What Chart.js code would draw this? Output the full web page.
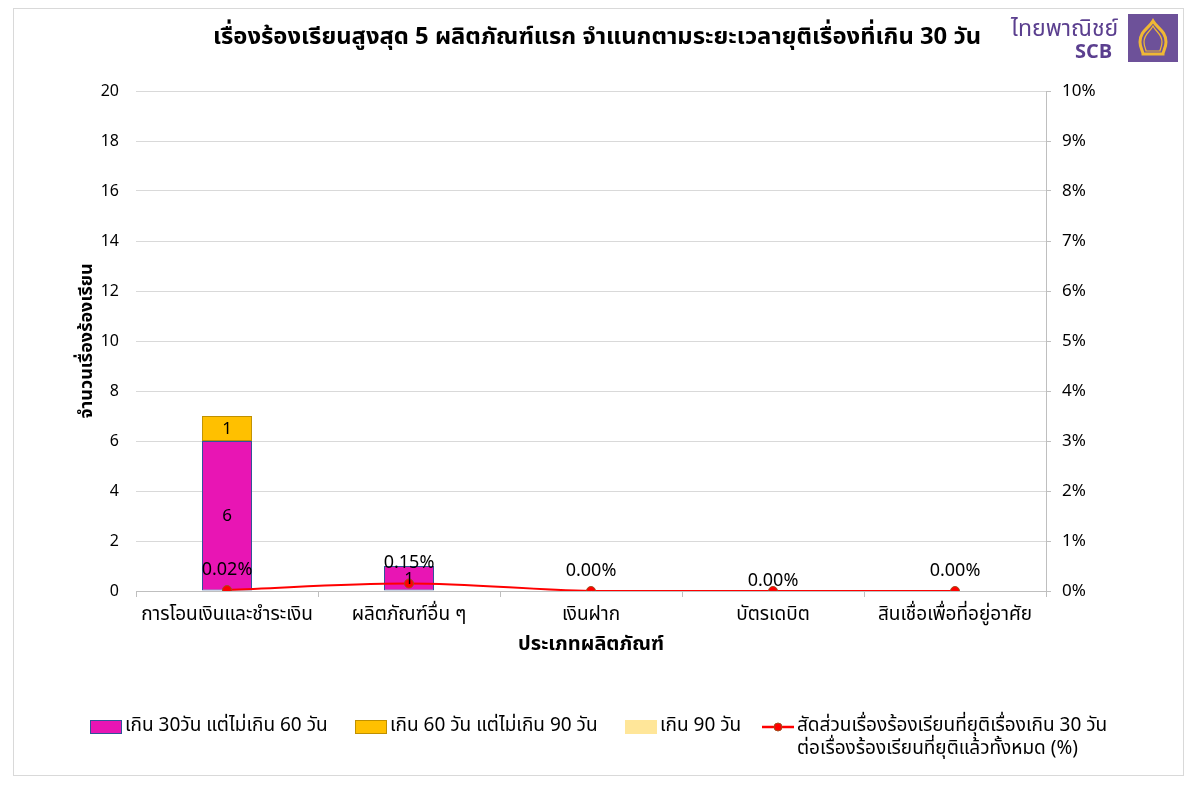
<!DOCTYPE html>
<html><head><meta charset="utf-8">
<script src="https://cdn.jsdelivr.net/npm/chart.js@4.4.1/dist/chart.umd.min.js"></script>
<style>
body{margin:0;background:#fff;}
#wrap{position:relative;width:1200px;height:806px;font-family:Tahoma,"Noto Sans Thai","DejaVu Sans","Noto Sans",sans-serif;color:#000;}
#frame{position:absolute;left:13px;top:8px;width:1171px;height:768px;border:1px solid #d9d9d9;box-sizing:border-box;}
canvas{position:absolute;left:0;top:0;}
#title{position:absolute;top:21px;left:0;width:1194px;text-align:center;font-weight:bold;font-size:23.8px;line-height:32px;}
#logoTh{position:absolute;left:1011px;top:13px;font-size:23px;color:#5b3f8f;line-height:32px;}
#logoEn{position:absolute;left:1075px;top:41px;font-size:20px;font-weight:bold;color:#5b3f8f;line-height:22px;}
#emblem{position:absolute;left:1128px;top:14px;}
#legend{position:absolute;left:90px;top:714px;font-size:19px;line-height:23px;white-space:nowrap;}
.li{position:absolute;top:0;}
.box{position:absolute;top:6px;width:32px;height:14px;box-sizing:border-box;}
.txt{position:absolute;left:35px;top:0;}
</style></head>
<body>
<div id="wrap">
  <div id="frame"></div>
  <canvas id="c" width="1200" height="806"></canvas>
  <div id="title">เรื่องร้องเรียนสูงสุด 5 ผลิตภัณฑ์แรก จำแนกตามระยะเวลายุติเรื่องที่เกิน 30 วัน</div>
  <div id="logoTh">ไทยพาณิชย์</div>
  <div id="logoEn">SCB</div>
  <svg id="emblem" width="50" height="48" viewBox="0 0 50 48">
    <rect x="0" y="0" width="50" height="48" fill="#6d5199"/>
    <path d="M25 7 C21 14 12 17 12 28 C12 34 15 37 15 40 L35 40 C35 37 38 34 38 28 C38 17 29 14 25 7 Z" fill="none" stroke="#f0b834" stroke-width="3"/>
    <path d="M25 12 C22 18 16 20 16 28 C16 33 18 35 18 37 L32 37 C32 35 34 33 34 28 C34 20 28 18 25 12 Z" fill="none" stroke="#f0b834" stroke-width="1.2"/>
  </svg>
  <div id="legend"></div>
</div>
<script>
const categories = ['การโอนเงินและชำระเงิน','ผลิตภัณฑ์อื่น ๆ','เงินฝาก','บัตรเดบิต','สินเชื่อเพื่อที่อยู่อาศัย'];
const over30to60 = [6, 1, 0, 0, 0];
const over60to90 = [1, 0, 0, 0, 0];
const over90 = [0, 0, 0, 0, 0];
const ratioPct = [0.02, 0.15, 0.00, 0.00, 0.00];
const leftTicks = [0, 20, 2];
const rightTicks = [0, 10, 1];
const seriesNames = ['เกิน 30วัน แต่ไม่เกิน 60 วัน','เกิน 60 วัน แต่ไม่เกิน 90 วัน','เกิน 90 วัน',['สัดส่วนเรื่องร้องเรียนที่ยุติเรื่องเกิน 30 วัน','ต่อเรื่องร้องเรียนที่ยุติแล้วทั้งหมด (%)']];

const FONT = 'Tahoma,"Noto Sans Thai","DejaVu Sans","Noto Sans",sans-serif';
const lineLabelOffsets = [20, 20, 20, 10, 20];

const labelPlugin = {
  id: 'vlabels',
  afterDatasetsDraw(chart) {
    const ctx = chart.ctx;
    ctx.save();
    ctx.fillStyle = '#000';
    ctx.textAlign = 'center';
    ctx.textBaseline = 'middle';
    chart.data.datasets.forEach((ds, i) => {
      const meta = chart.getDatasetMeta(i);
      meta.data.forEach((el, j) => {
        const v = ds.data[j];
        if (ds.type === 'line') {
          ctx.font = '18px ' + FONT;
          ctx.fillText(v.toFixed(2) + '%', el.x, el.y - lineLabelOffsets[j] + 1);
        } else if (v > 0) {
          ctx.font = '17px ' + FONT;
          ctx.fillText(String(v), el.x, (el.y + el.base) / 2 + 2);
        }
      });
    });
    ctx.restore();
  }
};

const bw = c => (c.raw ? 1 : 0);

new Chart(document.getElementById('c'), {
  type: 'bar',
  data: {
    labels: categories,
    datasets: [
      { type: 'line', label: seriesNames[3].join(' '), data: ratioPct, yAxisID: 'y1', order: 0,
        borderColor: '#ff0000', borderWidth: 2, tension: 0.35, pointRadius: 4.5,
        pointBackgroundColor: '#ff0000', pointBorderColor: '#a0501e', pointBorderWidth: 1, fill: false },
      { label: seriesNames[0], data: over30to60, backgroundColor: '#e815b4', borderColor: '#2f5597', borderWidth: bw, yAxisID: 'y', order: 1, borderSkipped: false },
      { label: seriesNames[1], data: over60to90, backgroundColor: '#ffc000', borderColor: '#bf9000', borderWidth: bw, yAxisID: 'y', order: 1, borderSkipped: false },
      { label: seriesNames[2], data: over90, backgroundColor: '#ffe699', borderColor: '#ffe699', borderWidth: bw, yAxisID: 'y', order: 1, borderSkipped: false }
    ]
  },
  options: {
    responsive: false,
    animation: false,
    events: [],
    layout: { padding: { left: 0, right: 0, top: 91, bottom: 148 } },
    datasets: { bar: { barPercentage: 0.275, categoryPercentage: 1 } },
    plugins: { legend: { display: false }, tooltip: { enabled: false }, title: { display: false } },
    scales: {
      x: {
        stacked: true,
        grid: { offset: true, drawOnChartArea: false, tickLength: 6, color: '#bfbfbf' },
        border: { color: '#bfbfbf', width: 1 },
        ticks: { color: '#000', font: { family: FONT, size: 19 }, padding: 8, maxRotation: 0 },
        title: { display: true, text: 'ประเภทผลิตภัณฑ์', color: '#000', font: { family: FONT, size: 20, weight: 'bold' }, padding: { top: 0, bottom: 0 } },
        afterFit: s => { s.height = 67; }
      },
      y: {
        stacked: true, position: 'left',
        min: leftTicks[0], max: leftTicks[1],
        ticks: { stepSize: leftTicks[2], color: '#000', font: { family: FONT, size: 16 }, padding: 17, labelOffset: 2 },
        grid: { color: '#d9d9d9', drawTicks: false },
        border: { display: false },
        title: { display: true, text: 'จำนวนเรื่องร้องเรียน', color: '#000', font: { family: FONT, size: 18, weight: 'bold' }, padding: { top: 78, bottom: 0 } },
        afterFit: s => { s.width = 136; }
      },
      y1: {
        position: 'right',
        min: rightTicks[0], max: rightTicks[1],
        ticks: { stepSize: rightTicks[2], color: '#000', font: { family: FONT, size: 17 }, padding: 11, labelOffset: 2, callback: v => v + '%' },
        grid: { drawOnChartArea: false, tickLength: 5, color: '#bfbfbf' },
        border: { color: '#bfbfbf', width: 1 },
        afterFit: s => { s.width = 154; }
      }
    }
  },
  plugins: [labelPlugin]
});

// legend
const legendItems = [
  { x: 0, fill: '#e815b4', border: '#2f5597', text: seriesNames[0] },
  { x: 265, fill: '#ffc000', border: '#bf9000', text: seriesNames[1] },
  { x: 535, fill: '#ffe699', border: '#ffe699', text: seriesNames[2] },
  { x: 672, line: true, text: seriesNames[3] }
];
const lg = document.getElementById('legend');
legendItems.forEach(it => {
  const d = document.createElement('div');
  d.className = 'li';
  d.style.left = it.x + 'px';
  if (it.line) {
    d.innerHTML = '<svg width="34" height="26" style="position:absolute;left:0;top:0"><line x1="0" y1="13" x2="32" y2="13" stroke="#ff0000" stroke-width="2.5"/><circle cx="16" cy="13" r="4" fill="#ff0000" stroke="#a0501e" stroke-width="1"/></svg>';
    const t = document.createElement('div');
    t.className = 'txt';
    t.innerHTML = it.text.join('<br>');
    d.appendChild(t);
  } else {
    const b = document.createElement('div');
    b.className = 'box';
    b.style.background = it.fill;
    b.style.border = '1.5px solid ' + it.border;
    d.appendChild(b);
    const t = document.createElement('div');
    t.className = 'txt';
    t.textContent = it.text;
    d.appendChild(t);
  }
  lg.appendChild(d);
});
</script>
</body></html>
